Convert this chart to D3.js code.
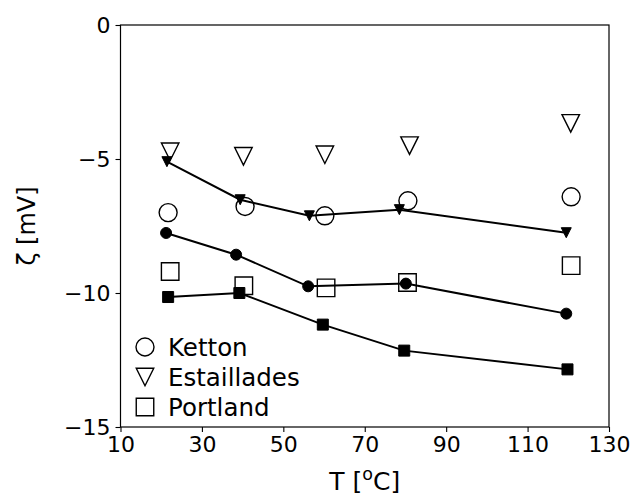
<!DOCTYPE html>
<html>
<head>
<meta charset="utf-8">
<script src="https://cdn.jsdelivr.net/npm/d3@7"></script>
<style>
  body { margin: 0; background: #fff; }
  svg text { font-family: "DejaVu Sans", sans-serif; fill: #000; }
</style>
</head>
<body>
<svg id="chart" width="633" height="497"></svg>
<script>
// open markers (legend series)
const kettonT = [21.7, 40.6, 60.2, 80.6, 120.7];
const kettonZ = [-7.0, -6.77, -7.12, -6.56, -6.41];
const estT = [22.2, 40.2, 60.2, 81.0, 120.6];
const estZ = [-4.73, -4.9, -4.84, -4.5, -3.67];
const portT = [22.2, 40.3, 60.5, 80.5, 120.7];
const portZ = [-9.2, -9.73, -9.81, -9.61, -8.98];

// filled markers joined by lines
const triLineT = [21.4, 39.4, 56.4, 78.5, 119.5];
const triLineZ = [-5.1, -6.52, -7.12, -6.89, -7.75];
const dotLineT = [21.2, 38.4, 56.1, 80.1, 119.5];
const dotLineZ = [-7.76, -8.57, -9.75, -9.65, -10.77];
const sqLineT = [21.7, 39.2, 59.7, 79.7, 119.8];
const sqLineZ = [-10.15, -10.0, -11.18, -12.15, -12.85];

const xTicks = [10, 30, 50, 70, 90, 110, 130];
const yTicks = [0, -5, -10, -15];
const legendNames = ["Ketton", "Estaillades", "Portland"];

const svg = d3.select("#chart");
const margin = { top: 25, right: 24, bottom: 70, left: 120.5 };
const width = 633, height = 497;

const x = d3.scaleLinear().domain([10, 130]).range([margin.left, width - margin.right]);
const y = d3.scaleLinear().domain([-15, 0]).range([height - margin.bottom, margin.top]);

const fmt = d => d < 0 ? "\u2212" + Math.abs(d) : String(d);

// axes
const gx = svg.append("g")
  .attr("transform", `translate(0,${y(-15)})`)
  .call(d3.axisBottom(x).tickValues(xTicks).tickSize(5).tickPadding(4).tickFormat(fmt));
const gy = svg.append("g")
  .attr("transform", `translate(${x(10)},0)`)
  .call(d3.axisLeft(y).tickValues(yTicks).tickSize(5).tickPadding(5).tickFormat(fmt));
[gx, gy].forEach(g => {
  g.select(".domain").remove();
  g.selectAll("line").attr("stroke", "#000").attr("stroke-width", 1.1);
  g.selectAll("text").style("font-size", "22px");
});

// frame
svg.append("rect")
  .attr("x", x(10)).attr("y", y(0))
  .attr("width", x(130) - x(10)).attr("height", y(-15) - y(0))
  .attr("fill", "none").attr("stroke", "#000").attr("stroke-width", 1.2);

const line = d3.line().x(d => x(d[0])).y(d => y(d[1]));
const zip = (a, b) => a.map((v, i) => [v, b[i]]);

const sym = (type, size) => d3.symbol().type(type).size(size)();
const triDown = size => {
  // downward triangle centred on its bounding box
  const h = size;
  return `M0,${h / 2}L${-h / 2},${-h / 2}L${h / 2},${-h / 2}Z`;
};

function filledSeries(T, Z, shape) {
  const pts = zip(T, Z);
  svg.append("path").datum(pts).attr("d", line)
    .attr("fill", "none").attr("stroke", "#000").attr("stroke-width", 2);
  svg.append("g").selectAll("path").data(pts).enter().append("path")
    .attr("transform", d => `translate(${x(d[0])},${y(d[1])})`)
    .attr("d", shape).attr("fill", "#000").attr("stroke", "#000").attr("stroke-width", 1);
}

function openSeries(T, Z, shape) {
  svg.append("g").selectAll("path").data(zip(T, Z)).enter().append("path")
    .attr("transform", d => `translate(${x(d[0])},${y(d[1])})`)
    .attr("d", shape).attr("fill", "none").attr("stroke", "#000").attr("stroke-width", 1.4);
}

filledSeries(triLineT, triLineZ, triDown(10));
filledSeries(dotLineT, dotLineZ, sym(d3.symbolCircle, Math.PI * 5.5 * 5.5));
filledSeries(sqLineT, sqLineZ, sym(d3.symbolSquare, 11 * 11));

const openShapes = [
  sym(d3.symbolCircle, Math.PI * 9 * 9),
  triDown(17.5),
  sym(d3.symbolSquare, 17.5 * 17.5)
];
openSeries(kettonT, kettonZ, openShapes[0]);
openSeries(estT, estZ, openShapes[1]);
openSeries(portT, portZ, openShapes[2]);

// legend
const leg = svg.append("g").attr("transform", `translate(${x(10) + 24.5},347)`);
legendNames.forEach((name, i) => {
  const row = leg.append("g").attr("transform", `translate(0,${i * 30})`);
  row.append("path").attr("d", openShapes[i])
    .attr("fill", "none").attr("stroke", "#000").attr("stroke-width", 1.4);
  row.append("text").attr("x", 23).attr("y", 0).attr("dy", "0.36em")
    .style("font-size", "24.5px").text(name);
});

// axis labels
const xl = svg.append("text")
  .attr("x", (x(10) + x(130)) / 2).attr("y", 490)
  .attr("text-anchor", "middle").style("font-size", "25px");
xl.append("tspan").text("T [");
xl.append("tspan").attr("dy", -10).style("font-size", "17.5px").text("o");
xl.append("tspan").attr("dy", 10).text("C]");

svg.append("text")
  .attr("transform", `translate(35,${(y(0) + y(-15)) / 2}) rotate(-90)`)
  .attr("text-anchor", "middle").style("font-size", "24px")
  .text("\u03b6 [mV]");
</script>
</body>
</html>
